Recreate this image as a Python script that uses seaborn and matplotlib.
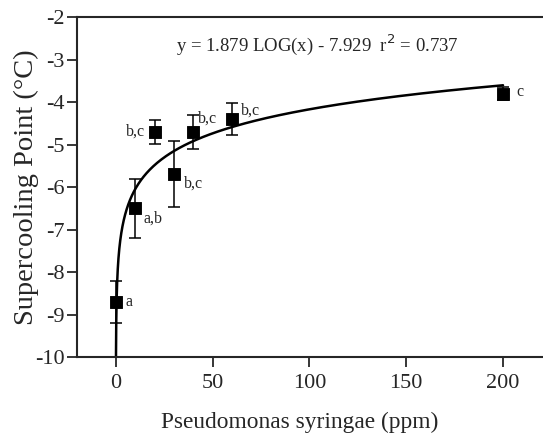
import numpy as np
import pandas as pd
import matplotlib
matplotlib.use("Agg")
import matplotlib.pyplot as plt
import seaborn as sns

# Data
conc = [0, 10, 20, 30, 40, 60, 200]
scp = [-8.7, -6.5, -4.7, -5.7, -4.7, -4.4, -3.8]
err = [0.5, 0.7, 0.28, 0.78, 0.4, 0.38, 0.15]
groups = ["a", "a,b", "b,c", "b,c", "b,c", "b,c", "c"]
# label offsets (pixels) and alignment
label_dx = [10, 8, -9, 10, 5, 9, 13]
label_dy = [0, -10, 0, -9, 13, 8, 2]
label_ha = ["left", "left", "right", "left", "left", "left", "left"]

# fitted curve y = a*log10(x) + b
slope = 1.879
intercept = -7.929

sns.set_style("ticks")
plt.rcParams["font.family"] = ["Liberation Serif", "DejaVu Serif"]
plt.rcParams["axes.unicode_minus"] = False

fig = plt.figure(figsize=(5.43, 4.37), dpi=100)
ax = fig.add_axes([0.142, 0.183, 0.87, 0.778])

df = pd.DataFrame({"conc": conc, "scp": scp})
xfit = np.logspace(np.log10(0.079), np.log10(200), 400)
fit = pd.DataFrame({"x": xfit, "y": slope * np.log10(xfit) + intercept})

sns.lineplot(data=fit, x="x", y="y", color="black", lw=1.8, ax=ax)
ax.errorbar(conc, scp, yerr=err, fmt="none", ecolor="black", elinewidth=1.1,
            capsize=4, capthick=1.1)
sns.scatterplot(data=df, x="conc", y="scp", marker="s", s=64, color="black",
                edgecolor="black", ax=ax, zorder=5)

for x, y, g, dx, dy, ha in zip(conc, scp, groups, label_dx, label_dy, label_ha):
    ax.annotate(g, (x, y), xytext=(dx, dy), textcoords="offset pixels",
                ha=ha, va="center", fontsize=11.5)

ax.text(104, -2.66, "y = 1.879 LOG(x) - 7.929  r$^2$ = 0.737", ha="center",
        va="center", fontsize=13.5)

ax.set_xlim(-20, 224)
ax.set_ylim(-10, -2)
ax.set_xticks([0, 50, 100, 150, 200])
ax.set_yticks(range(-10, -1))
ax.set_xlabel("Pseudomonas syringae (ppm)", fontsize=16.8)
ax.xaxis.set_label_coords(0.472, -0.16)
ax.set_ylabel("Supercooling Point (°C)", fontsize=20.5, labelpad=-3)
ax.tick_params(labelsize=16, length=7, width=1.3, direction="out")
ax.tick_params(axis="x", pad=5)
ax.tick_params(axis="y", pad=2)
for s in ["left", "bottom", "top"]:
    ax.spines[s].set_linewidth(1.5)
ax.spines["right"].set_visible(False)

fig.savefig("out.png", dpi=100)
